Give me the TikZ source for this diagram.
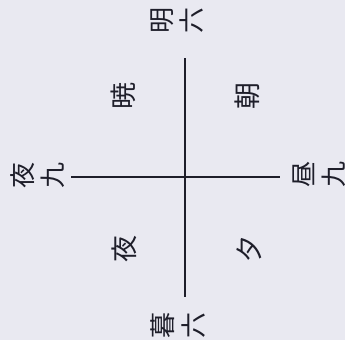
\documentclass[tikz,border=0pt]{standalone}
\usepackage{fontspec}
\newfontfamily\jp{Noto Sans CJK JP}
\definecolor{paper}{RGB}{233,233,241}
\definecolor{ink}{RGB}{30,30,42}
\begin{document}
\begin{tikzpicture}[x=1pt,y=-1pt,
  axis/.style={draw=ink,line width=2.3pt},
  quad/.style={text=ink,inner sep=0pt,rotate=90,font=\jp\fontsize{27}{27}\selectfont},
  endlabel/.style={text=ink,inner sep=0pt,rotate=90,align=center,font=\jp\fontsize{26}{30}\selectfont}]
\fill[paper] (0,0) rectangle (345,340);
\useasboundingbox (0,0) rectangle (345,340);
\coordinate (top) at (185,58);
\coordinate (bot) at (185,297);
\coordinate (lft) at (71,177);
\coordinate (rgt) at (280,177);
\draw[axis] (top) -- (bot);
\draw[axis] (lft) -- (rgt);
\node[endlabel] (ake) at (177,20) {明\\六};
\node[endlabel] (yoru9) at (38,175) {夜\\九};
\node[endlabel] (hiru9) at (319,174) {昼\\九};
\node[endlabel] (kure) at (178,325) {暮\\六};
\node[quad] (akatsuki) at (123,96) {暁};
\node[quad] (asa) at (247,96) {朝};
\node[quad] (yoru) at (124,249) {夜};
\node[quad] (yuu) at (249,249) {夕};
\end{tikzpicture}
\end{document}
